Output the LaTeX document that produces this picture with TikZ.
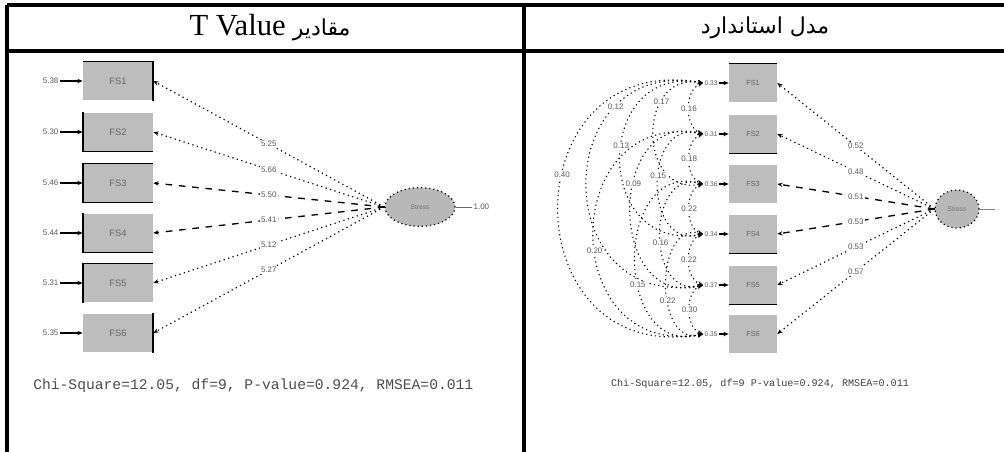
\documentclass[tikz,border=0pt]{standalone}
\usepackage{fontspec}
\setmainfont{Liberation Serif}
\newfontfamily\arabicfont[Script=Arabic]{DejaVu Sans}
\newfontfamily\labfont{Liberation Sans}
\newfontfamily\statfont{Liberation Mono}
\TeXXeTstate=1
\usetikzlibrary{shapes.geometric,arrows.meta}
\begin{document}
\begin{tikzpicture}[x=0.75pt,y=-0.75pt,
  frame/.style={line width=2.3pt},
  hdr/.style={inner sep=0pt},
  obsL/.style={rectangle,fill=black!26,minimum width=52.5pt,minimum height=29pt,inner sep=0pt,
    font=\labfont\fontsize{7}{8}\selectfont,text=black!60},
  obsR/.style={rectangle,fill=black!26,minimum width=36pt,minimum height=29pt,inner sep=0pt,
    font=\labfont\fontsize{5.5}{6}\selectfont,text=black!60},
  edge/.style={line width=1.3pt},
  lat/.style={ellipse,fill=black!28,draw,line width=0.9pt,dash pattern=on 0.9pt off 2.2pt,inner sep=0pt,
    font=\labfont\fontsize{5}{6}\selectfont,text=black!55},
  lab/.style={font=\labfont\fontsize{6}{7}\selectfont,text=black!65,inner sep=1pt},
  labw/.style={lab,fill=white},
  tip/.style={-{Stealth[length=4pt,width=3.2pt]}},
  dotl/.style={tip,line width=0.9pt,dash pattern=on 0.9pt off 2.6pt},
  dashl/.style={tip,line width=1pt,dash pattern=on 5pt off 5pt},
  errl/.style={tip,line width=0.8pt},
  cov/.style={{Stealth[length=4pt,width=3.2pt]}-{Stealth[length=4pt,width=3.2pt]},line width=0.8pt,dash pattern=on 0.9pt off 2.4pt},
  stat/.style={font=\statfont\fontsize{11}{12}\selectfont,text=black!70,inner sep=0pt},
  statR/.style={font=\statfont\fontsize{7.6}{9}\selectfont,text=black!75,inner sep=0pt}]
\useasboundingbox (0,0) rectangle (1004,452);
\clip (0,0) rectangle (1004,452);

% table frame
\draw[frame] (7,5) -- (1004,5);
\draw[frame] (7,51) -- (1004,51);
\draw[frame] (7,5) -- (7,452);
\draw[frame] (524,5) -- (524,452);

% headers
\node[hdr] (h1) at (270,28) {\arabicfont\fontsize{16.5}{18}\selectfont\beginR مقادیر \beginL{\rmfamily\fontsize{23}{24}\selectfont T Value}\endL\endR};
\node[hdr] (h2) at (765,28) {\arabicfont\fontsize{16.5}{18}\selectfont\beginR مدل استاندارد\endR};

% ---------------- left panel ----------------
\foreach \i/\y in {1/81,2/132,3/183,4/233,5/283,6/333}{
  \node[obsL] (L\i) at (118,\y) {FS\i};
}
\draw[edge] (L1.north west) -- (L1.north east) -- (L1.south east);
\draw[edge] (L2.north west) -- (L2.south west) -- (L2.south east);
\draw[edge] (L3.north east) -- (L3.north west) -- (L3.south west) -- (L3.south east);
\draw[edge] (L4.north west) -- (L4.south west) -- (L4.south east);
\draw[edge] (L5.south west) -- (L5.north west) -- (L5.north east);
\draw[edge] (L6.north east) -- (L6.south east);

\foreach \i/\v in {1/5.38,2/5.30,3/5.46,4/5.44,5/5.31,6/5.35}{
  \node[lab,anchor=east] (eL\i) at (60,0|-L\i) {\v};
  \draw[errl] (eL\i.east) -- (L\i.west);
}

\node[lat,minimum width=52.5pt,minimum height=29pt] (LL) at (420,207) {Stress};
\coordinate (LLo) at (472,207);
\draw[black!60,line width=0.5pt] (LL.east) -- (LLo);
\node[lab,anchor=west] (LLv) at (LLo) {1.00};

\draw[dotl] (LL.west) -- node[labw,pos=.5] {5.25} (L1.east);
\draw[dotl] (LL.west) -- node[labw,pos=.5] {5.66} (L2.east);
\draw[dashl] (LL.west) -- node[labw,pos=.5] {5.50} (L3.east);
\draw[dashl] (LL.west) -- node[labw,pos=.5] {5.41} (L4.east);
\draw[dotl] (LL.west) -- node[labw,pos=.5] {5.12} (L5.east);
\draw[dotl] (LL.west) -- node[labw,pos=.5] {5.27} (L6.east);

\node[stat,anchor=west] (sL) at (33,386) {Chi-Square=12.05, df=9, P-value=0.924, RMSEA=0.011};

% ---------------- right panel ----------------
\foreach \i/\y in {1/83,2/134,3/184,4/234,5/285,6/334}{
  \node[obsR] (R\i) at (753,\y) {FS\i};
}
\draw[edge] (R1.north west) -- (R1.north east);
\draw[edge] (R2.south west) -- (R2.south east);
\draw[edge] (R4.south west) -- (R4.south east);
\draw[edge] (R5.south west) -- (R5.south east);

\foreach \i/\v in {1/0.33,2/0.31,3/0.36,4/0.34,5/0.37,6/0.35}{
  \node[lab,anchor=west,font=\labfont\fontsize{5}{6}\selectfont] (eR\i) at (703,0|-R\i) {\v};
  \draw[errl] (eR\i.east) -- (R\i.west);
}

% covariances between adjacent errors
\draw[cov] (eR1.west) to[out=200,in=160] node[labw,midway] {0.16} (eR2.west);
\draw[cov] (eR2.west) to[out=200,in=160] node[labw,midway] {0.18} (eR3.west);
\draw[cov] (eR3.west) to[out=200,in=160] node[labw,midway] {0.22} (eR4.west);
\draw[cov] (eR4.west) to[out=200,in=160] node[labw,midway] {0.22} (eR5.west);
\draw[cov] (eR5.west) to[out=200,in=160] node[labw,midway] {0.30} (eR6.west);
% longer covariances
\draw[cov] (eR1.west) to[out=170,in=190,looseness=1.7] node[labw,pos=.3] {0.17} (eR3.west);
\draw[cov] (eR1.west) to[out=170,in=190,looseness=1.9] node[labw,pos=.45] {0.13} (eR4.west);
\draw[cov] (eR1.west) to[out=170,in=190,looseness=2.0] node[labw,pos=.25] {0.12} (eR5.west);
\draw[cov] (eR1.west) to[out=170,in=190,looseness=2.0] node[labw,pos=.42] {0.40} (eR6.west);
\draw[cov] (eR2.west) to[out=165,in=195,looseness=1.6] node[labw,pos=.45] {0.15} (eR4.west);
\draw[cov] (eR2.west) to[out=165,in=195,looseness=1.7] node[labw,pos=.4] {0.09} (eR5.west);
\draw[cov] (eR2.west) to[out=170,in=190,looseness=1.9] node[labw,pos=.55] {0.20} (eR6.west);
\draw[cov] (eR3.west) to[out=165,in=195,looseness=1.5] node[labw,pos=.55] {0.16} (eR5.west);
\draw[cov] (eR3.west) to[out=165,in=195,looseness=1.6] node[labw,pos=.6] {0.15} (eR6.west);
\draw[cov] (eR4.west) to[out=165,in=195,looseness=1.3] node[labw,pos=.6] {0.22} (eR6.west);

\node[lat,minimum width=33pt,minimum height=28.5pt] (LR) at (957,209) {Stress};
\coordinate (LRo) at (995,209);
\draw[black!50,line width=0.5pt] (LR.east) -- (LRo);

\draw[dotl] (LR.west) -- node[labw,pos=.5] {0.52} (R1.east);
\draw[dotl] (LR.west) -- node[labw,pos=.5] {0.48} (R2.east);
\draw[dashl] (LR.west) -- node[labw,pos=.5] {0.51} (R3.east);
\draw[dashl] (LR.west) -- node[labw,pos=.5] {0.53} (R4.east);
\draw[dotl] (LR.west) -- node[labw,pos=.5] {0.53} (R5.east);
\draw[dotl] (LR.west) -- node[labw,pos=.5] {0.57} (R6.east);

\node[statR] (sR) at (760,384) {Chi-Square=12.05, df=9 P-value=0.924, RMSEA=0.011};
\end{tikzpicture}
\end{document}
